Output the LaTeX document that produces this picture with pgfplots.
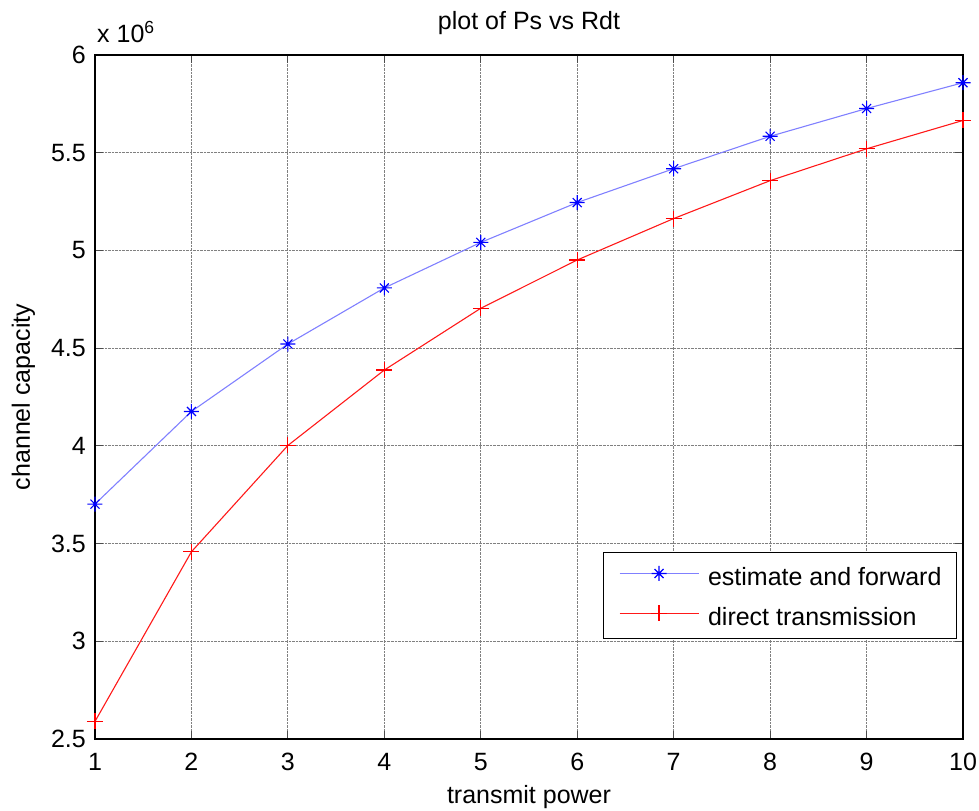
\documentclass[border=0pt]{standalone}
\usepackage{fontspec}
\setmainfont{Liberation Sans}
\usepackage{pgfplots}
\pgfplotsset{compat=1.18}
\definecolor{efblue}{HTML}{0000FF}
\definecolor{dtred}{HTML}{FF0000}
\newcommand{\fs}{\fontsize{25bp}{30bp}\selectfont}
% MATLAB-style '*' marker: a plus with shorter diagonals
\pgfdeclareplotmark{mstar}{%
  \pgfpathmoveto{\pgfqpoint{-\pgfplotmarksize}{0pt}}\pgfpathlineto{\pgfqpoint{\pgfplotmarksize}{0pt}}%
  \pgfpathmoveto{\pgfqpoint{0pt}{-\pgfplotmarksize}}\pgfpathlineto{\pgfqpoint{0pt}{\pgfplotmarksize}}%
  \pgfpathmoveto{\pgfqpoint{-0.6\pgfplotmarksize}{-0.6\pgfplotmarksize}}\pgfpathlineto{\pgfqpoint{0.6\pgfplotmarksize}{0.6\pgfplotmarksize}}%
  \pgfpathmoveto{\pgfqpoint{-0.6\pgfplotmarksize}{0.6\pgfplotmarksize}}\pgfpathlineto{\pgfqpoint{0.6\pgfplotmarksize}{-0.6\pgfplotmarksize}}%
  \pgfusepathqstroke}

\begin{document}
\begin{tikzpicture}[x=1bp,y=1bp]
\begin{axis}[
  at={(0,0)}, anchor=south west, scale only axis,
  width=868bp, height=684bp,
  xmin=1, xmax=10, ymin=2.5, ymax=6,
  xtick={1,...,10}, ytick={2.5,3,...,6},
  /pgf/number format/assume math mode=true,
  grid=major, grid style={densely dotted, black!50, line width=0.8bp},
  tick align=inside, major tick length=8bp,
  tick style={black!70, line width=1bp},
  axis line style={black, line width=1.3bp},
  tick label style={font=\fs, inner sep=0pt},
  xticklabel style={anchor=base, yshift=-32bp},
  yticklabel style={anchor=east, xshift=-9bp},
  title={plot of Ps vs Rdt},
  title style={font=\fs, at={(axis description cs:0.5,1)}, anchor=base, yshift=20bp, inner sep=0pt},
  xlabel={transmit power},
  xlabel style={font=\fs, at={(axis description cs:0.5,0)}, anchor=base, yshift=-64bp, inner sep=0pt},
  ylabel={channel capacity},
  ylabel style={font=\fs, at={(axis description cs:0,0.5)}, anchor=base, yshift=65bp, inner sep=0pt},
  legend style={at={(rel axis cs:0.9931,0.1462)}, anchor=south east,
    draw=black, line width=1bp, font=\fs,
    inner xsep=15bp, inner ysep=13bp, row sep=20bp, column sep=9bp,
    nodes={inner sep=0pt, text height=18bp, text depth=0bp}},
  legend cell align=left,
  legend image code/.code={\draw[mark repeat=2, mark phase=2, #1] plot coordinates {(0bp,3bp) (39.5bp,3bp) (79bp,3bp)};},
]
\addplot[efblue!50, line width=1.1bp, mark=mstar, mark size=7.5bp, mark options={efblue, line width=1.1bp}]
  coordinates {(1,3.702)(2,4.176)(3,4.521)(4,4.808)(5,5.041)(6,5.245)(7,5.418)(8,5.584)(9,5.726)(10,5.858)};
\addlegendentry{estimate and forward}
\addplot[dtred!90, line width=1.1bp, mark=+, mark size=8bp, mark options={dtred, line width=1.2bp}]
  coordinates {(1,2.590)(2,3.458)(3,4.002)(4,4.388)(5,4.704)(6,4.951)(7,5.163)(8,5.357)(9,5.520)(10,5.665)};
\addlegendentry{direct transmission}
\end{axis}
\node[anchor=base west, inner sep=0pt, font=\fs] at (2,696) {x 10\textsuperscript{6}};
\path (-95,-72) rectangle (884,739);
\end{tikzpicture}
\end{document}
